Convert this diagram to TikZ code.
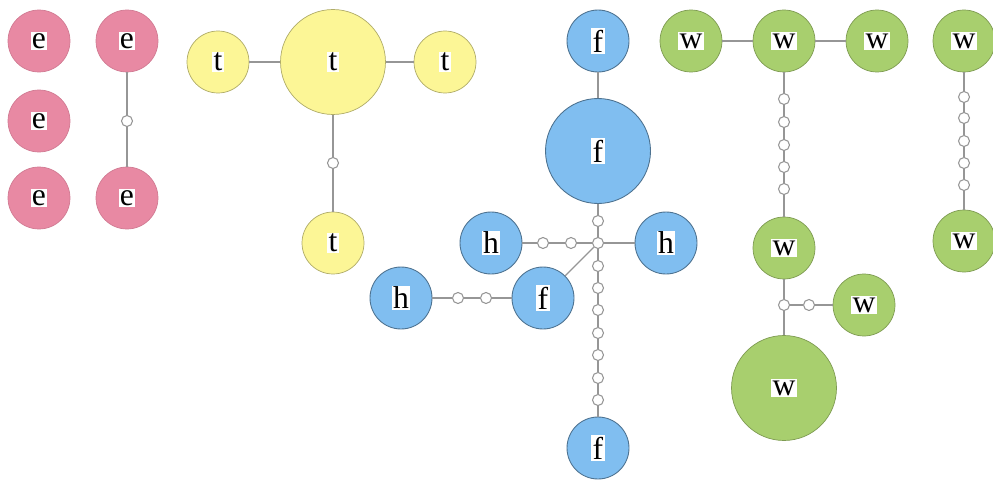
\documentclass[tikz,border=0pt]{standalone}
\usepackage{fontspec}
\setmainfont{Liberation Serif}
\usepackage{tikz}

\definecolor{epink}{RGB}{232,137,163}
\definecolor{tyellow}{RGB}{252,246,150}
\definecolor{fblue}{RGB}{128,190,240}
\definecolor{wgreen}{RGB}{168,207,110}
\definecolor{linegray}{RGB}{150,150,150}

\newcommand{\lbl}[1]{{\setlength{\fboxsep}{0.8pt}\colorbox{white}{#1}}}

\begin{document}
\begin{tikzpicture}[x=0.02cm,y=-0.02cm,
    vertex/.style={circle,minimum size=1.24cm,inner sep=0pt,font=\fontsize{18}{20}\selectfont},
    big/.style={minimum size=2.1cm},
    enode/.style={vertex,fill=epink,draw=epink!90!black,line width=0.4pt},
    tnode/.style={vertex,fill=tyellow,draw=tyellow!70!black,line width=0.4pt},
    fnode/.style={vertex,fill=fblue,draw=fblue!60!black,line width=0.5pt},
    wnode/.style={vertex,fill=wgreen,draw=wgreen!75!black,line width=0.4pt},
    dot/.style={circle,draw=linegray,fill=white,minimum size=0.22cm,inner sep=0pt,line width=0.6pt},
    link/.style={draw=linegray,line width=0.7pt}]
          \useasboundingbox (0,0) rectangle (993,480);
          % e group
          \node[enode] (e1) at (39,41) {\lbl{e}};
          \node[enode] (e2) at (39,121) {\lbl{e}};
          \node[enode] (e3) at (39,198) {\lbl{e}};
          \node[enode] (e4) at (127,41) {\lbl{e}};
          \node[enode] (e5) at (127,198) {\lbl{e}};
          \node[dot] (ed) at (127,121) {};
          \draw[link] (e4) -- (ed) -- (e5);
          % t group
          \node[tnode] (t1) at (218,62) {\lbl{t}};
          \node[tnode,big] (t0) at (333,62) {\lbl{t}};
          \node[tnode] (t2) at (445,62) {\lbl{t}};
          \node[tnode] (t3) at (333,243) {\lbl{t}};
          \node[dot] (td) at (333,163) {};
          \draw[link] (t1) -- (t0) -- (t2);
          \draw[link] (t0) -- (td) -- (t3);
          % f and h group
          \node[fnode] (f1) at (598,41) {\lbl{f}};
          \node[fnode,big] (f0) at (598,151) {\lbl{f}};
          \node[dot] (fa) at (598,221) {};
          \node[dot] (fj) at (598,243) {};
          \node[fnode] (h1) at (491,243) {\lbl{h}};
          \node[dot] (ha1) at (543,243) {};
          \node[dot] (ha2) at (571,243) {};
          \node[fnode] (h2) at (666,243) {\lbl{h}};
          \node[fnode] (f2) at (543,298) {\lbl{f}};
          \node[fnode] (h3) at (401,298) {\lbl{h}};
          \node[dot] (hb1) at (458,298) {};
          \node[dot] (hb2) at (486,298) {};
          \node[fnode] (f3) at (598,448) {\lbl{f}};
          \foreach \y [count=\i] in {266,288,310,333,355,378,400}
            \node[dot] (fc\i) at (598,\y) {};
          \draw[link] (f1) -- (f0) -- (fa) -- (fj) -- (h2);
          \draw[link] (h1) -- (ha1) -- (ha2) -- (fj);
          \draw[link] (h3) -- (hb1) -- (hb2) -- (f2);
          \draw[link] (f2) -- (fj);
          \draw[link] (fj) -- (fc1);
          \foreach \i [count=\j from 2] in {1,...,6}
            \draw[link] (fc\i) -- (fc\j);
          \draw[link] (fc7) -- (f3);
          % w group
          \node[wnode] (w1) at (691,41) {\lbl{w}};
          \node[wnode] (w0) at (784,41) {\lbl{w}};
          \node[wnode] (w2) at (877,41) {\lbl{w}};
          \node[wnode] (w3) at (784,248) {\lbl{w}};
          \node[dot] (wj) at (784,305) {};
          \node[dot] (wb) at (809,305) {};
          \node[wnode] (w4) at (864,305) {\lbl{w}};
          \node[wnode,big] (w5) at (784,388) {\lbl{w}};
          \foreach \y [count=\i] in {99,122,145,167,189}
            \node[dot] (wa\i) at (784,\y) {};
          \draw[link] (w1) -- (w0) -- (w2);
          \draw[link] (w0) -- (wa1);
          \foreach \i [count=\j from 2] in {1,...,4}
            \draw[link] (wa\i) -- (wa\j);
          \draw[link] (wa5) -- (w3) -- (wj) -- (w5);
          \draw[link] (wj) -- (wb) -- (w4);
          % second w group
          \node[wnode] (w6) at (964,41) {\lbl{w}};
          \node[wnode] (w7) at (964,241) {\lbl{w}};
          \foreach \y [count=\i] in {97,118,141,163,185}
            \node[dot] (wc\i) at (964,\y) {};
          \draw[link] (w6) -- (wc1);
          \foreach \i [count=\j from 2] in {1,...,4}
            \draw[link] (wc\i) -- (wc\j);
          \draw[link] (wc5) -- (w7);
        \end{tikzpicture}
\end{document}
